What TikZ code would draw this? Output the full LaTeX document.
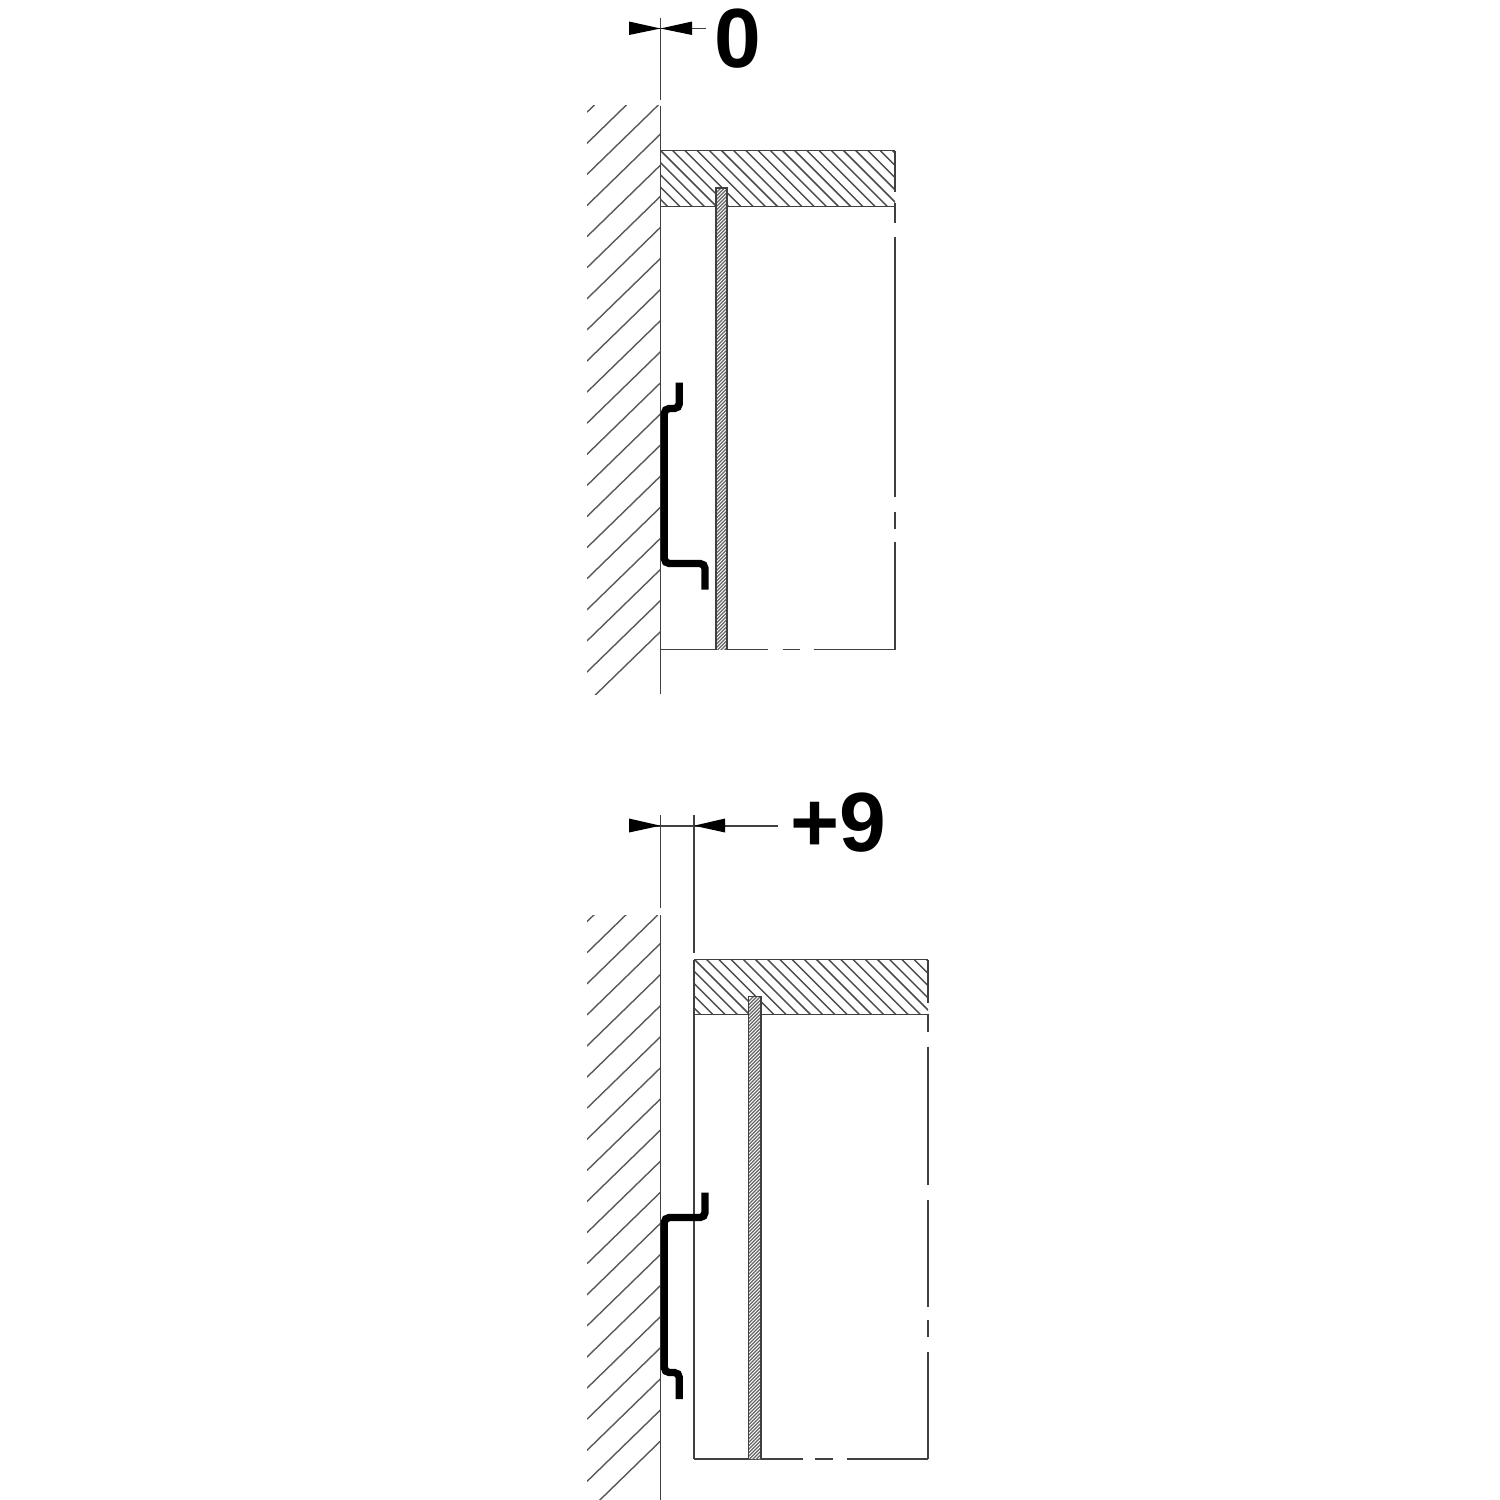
\documentclass[tikz,border=0pt]{standalone}
\usepackage{fontspec}
\setmainfont{Liberation Sans}
\tikzset{
  thinline/.style={draw=black!75,line width=2.4pt},
  hatchline/.style={draw=black!65,line width=2pt},
  panelhatch/.style={draw=black!70,line width=2.1pt},
  finehatch/.style={draw=black!60,line width=1.6pt},
  railline/.style={draw=black,line width=10.5pt,rounded corners=7pt},
  dimtip/.style={fill=black,draw=none},
  dimtext/.style={font=\bfseries\fontsize{119.5}{120}\selectfont,text=black,inner sep=0pt,anchor=base}
}
\begin{document}
\begin{tikzpicture}[x=0.05cm,y=-0.05cm]
\useasboundingbox[fill=white] (0,0) rectangle (1500,1500);
% ---- upper assembly
\begin{scope}
  \clip (587,105.5) rectangle (660.5,694);
  \foreach \k in {0,...,20}{
    \draw[hatchline] (587,81.1+31.1*\k) -- ++(74,-72);
  }
\end{scope}
\draw[thinline] (660.5,18) -- (660.5,100);
\draw[thinline] (660.5,105.5) -- (660.5,694);
\begin{scope}
  \clip (660.5,150.5) rectangle (895,206.5);
  \foreach \k in {0,...,26}{
    \draw[panelhatch] (586.8+12.2*\k,150) -- ++(58,58);
  }
\end{scope}
\draw[thinline] (660.5,150.5) -- (895,150.5);
\draw[thinline] (660.5,206.5) -- (895,206.5);
\draw[thinline] (895,150.5) -- (895,192);
\draw[thinline] (895,203) -- (895,223);
\draw[thinline] (895,236.5) -- (895,497);
\draw[thinline] (895,511.5) -- (895,529);
\draw[thinline] (895,541.5) -- (895,649.5);
\draw[thinline] (660.5,649.5) -- (768,649.5);
\draw[thinline] (782.5,649.5) -- (800,649.5);
\draw[thinline] (813.5,649.5) -- (895,649.5);
\fill[white] (716,188) rectangle (727,649.5);
\begin{scope}
  \clip (716,188) rectangle (727,649.5);
  \foreach \k in {0,...,135}{
    \draw[finehatch] (714,195+3.5*\k) -- ++(15,-15);
  }
\end{scope}
\draw[thinline] (716,649.5) -- (716,188) -- (727,188) -- (727,649.5);
\draw[railline] (679.3,382.5) -- (679.3,408.5) -- (664.3,408.5) -- (664.3,563.5) -- (705,563.5) -- (705,589.5);
% dimension 0
\draw[thinline] (629,28.5) -- (706,28.5);
\fill[dimtip] (629,21.5) -- (660.5,28.5) -- (629,35) -- cycle;
\fill[dimtip] (692,21.5) -- (660.5,28.5) -- (692,35) -- cycle;
\node[dimtext] (zero) at (738,67) {0};
% ---- lower assembly
\begin{scope}
  \clip (587,915) rectangle (660.5,1500);
  \foreach \k in {0,...,20}{
    \draw[hatchline] (587,890.5+31.1*\k) -- ++(74,-72);
  }
\end{scope}
\draw[thinline] (660.5,815) -- (660.5,908);
\draw[thinline] (660.5,915) -- (660.5,1500);
\draw[thinline] (694,815) -- (694,952.5);
\begin{scope}
  \clip (694,959.5) rectangle (928,1014.5);
  \foreach \k in {0,...,26}{
    \draw[panelhatch] (620.8+12.2*\k,959) -- ++(58,58);
  }
\end{scope}
\draw[thinline] (694,959.5) -- (928,959.5);
\draw[thinline] (694,1014.5) -- (928,1014.5);
\draw[thinline] (694,959.5) -- (694,1459);
\draw[thinline] (928,959.5) -- (928,1002.5);
\draw[thinline] (928,1013.5) -- (928,1031.5);
\draw[thinline] (928,1046.5) -- (928,1185);
\draw[thinline] (928,1199.5) -- (928,1306.5);
\draw[thinline] (928,1320) -- (928,1336.5);
\draw[thinline] (928,1351.5) -- (928,1459);
\draw[thinline] (694,1459) -- (802.5,1459);
\draw[thinline] (815,1459) -- (832.5,1459);
\draw[thinline] (846.5,1459) -- (928,1459);
\fill[white] (748.5,996.5) rectangle (761,1459);
\begin{scope}
  \clip (748.5,996.5) rectangle (761,1459);
  \foreach \k in {0,...,135}{
    \draw[finehatch] (746,1004+3.5*\k) -- ++(17,-17);
  }
\end{scope}
\draw[thinline] (748.5,1459) -- (748.5,996.5) -- (761,996.5) -- (761,1459);
\draw[railline] (705,1192.5) -- (705,1217.5) -- (664.3,1217.5) -- (664.3,1372.5) -- (679.3,1372.5) -- (679.3,1399);
% dimension +9
\draw[thinline] (629,825.7) -- (778,825.7);
\fill[dimtip] (629,818.5) -- (660.5,825.7) -- (629,832.5) -- cycle;
\fill[dimtip] (725,818.5) -- (694,825.7) -- (725,832.5) -- cycle;
\node[dimtext] (nine) at (838,851) {+9};
\end{tikzpicture}
\end{document}
